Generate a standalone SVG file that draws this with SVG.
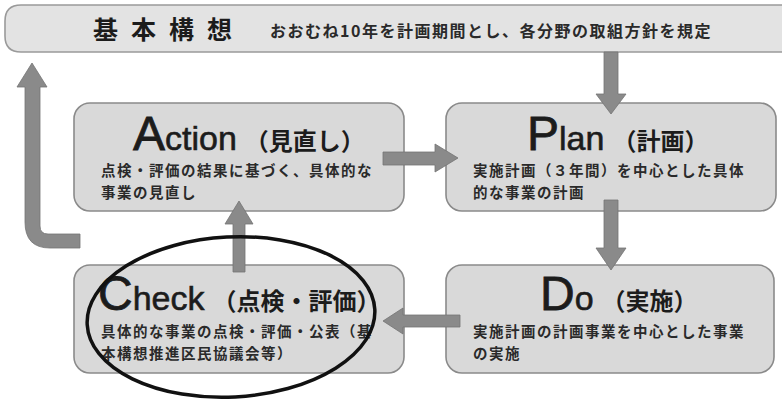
<svg xmlns="http://www.w3.org/2000/svg" width="782" height="400" viewBox="0 0 782 400">
<style>
  .box { fill: #d9d9d9; stroke: #8a8a8a; stroke-width: 1.6; }
  .banner { fill: #e3e3e3; stroke: #9a9a9a; stroke-width: 1.6; }
  .arrow { fill: #8a8a8a; stroke: #747474; stroke-width: 0.8; }
  .ttl { font-family: "Liberation Sans", "Noto Sans CJK JP", sans-serif; fill: #1c1c1c; }
  .big { font-size: 48px; stroke: #1c1c1c; stroke-width: 0.8px; }
  .mid { font-size: 34px; stroke: #1c1c1c; stroke-width: 0.6px; }
  .jp { font-family: "Noto Sans CJK JP", sans-serif; font-size: 24px; font-weight: 700; stroke: none; }
  .desc { font-family: "Noto Sans CJK JP", sans-serif; font-size: 14.5px; letter-spacing: 1.5px; font-weight: 700; fill: #2a2a2a; }
  .head { font-family: "Noto Sans CJK JP", sans-serif; font-size: 25px; font-weight: 700; fill: #1c1c1c; letter-spacing: 13px; }
  .sub { font-family: "Noto Sans CJK JP", sans-serif; font-size: 16px; letter-spacing: 1.5px; font-weight: 600; fill: #2a2a2a; }
</style>

<g id="banner">
  <path class="banner" d="M 21,5 L 790,5 L 790,52 L 21,52 Q 5,52 5,36 L 5,21 Q 5,5 21,5 Z"/>
  <text class="head" x="93" y="39">基本構想</text>
  <text class="sub" x="270" y="37">おおむね10年を計画期間とし、各分野の取組方針を規定</text>
</g>

<g id="action">
  <rect class="box" x="74" y="103" width="330" height="108" rx="16"/>
  <text class="ttl" x="133" y="150"><tspan class="big">A</tspan><tspan class="mid">ction</tspan><tspan class="jp" dx="8">（見直し）</tspan></text>
  <text class="desc" x="101" y="176">点検・評価の結果に基づく、具体的な</text>
  <text class="desc" x="101" y="197.5">事業の見直し</text>
</g>

<g id="plan">
  <rect class="box" x="446" y="103" width="330" height="108" rx="16"/>
  <text class="ttl" x="527" y="150"><tspan class="big">P</tspan><tspan class="mid">lan</tspan><tspan class="jp" dx="8">（計画）</tspan></text>
  <text class="desc" x="473" y="176">実施計画（３年間）を中心とした具体</text>
  <text class="desc" x="473" y="197.5">的な事業の計画</text>
</g>

<g id="check">
  <rect class="box" x="74" y="265" width="330" height="108" rx="16"/>
  <text class="ttl" x="98" y="310"><tspan class="big">C</tspan><tspan class="mid">heck</tspan><tspan class="jp" dx="8">（点検・評価）</tspan></text>
  <text class="desc" x="101" y="337">具体的な事業の点検・評価・公表（基</text>
  <text class="desc" x="101" y="358.5">本構想推進区民協議会等）</text>
</g>

<g id="do">
  <rect class="box" x="446" y="265" width="328" height="108" rx="16"/>
  <text class="ttl" x="540" y="310"><tspan class="big">D</tspan><tspan class="mid">o</tspan><tspan class="jp" dx="8">（実施）</tspan></text>
  <text class="desc" x="473" y="337">実施計画の計画事業を中心とした事業</text>
  <text class="desc" x="473" y="358.5">の実施</text>
</g>

<g id="connectors">
  <polygon class="arrow" points="604,52 618,52 618,94 626,94 611,114 596,94 604,94"/>
  <polygon class="arrow" points="383,152 435,152 435,144 458,158 435,172 435,165 383,165"/>
  <polygon class="arrow" points="604,200 618,200 618,248 626,248 611,270 596,248 604,248"/>
  <polygon class="arrow" points="460,315 403,315 403,308 383,321 403,334 403,327 460,327"/>
  <polygon class="arrow" points="233,272 233,224 225,224 239,201 253,224 245,224 245,272"/>
  <path class="arrow" d="M 32,63 L 47,87 L 40,87 L 40,226 Q 40,234 48,234 L 80,234 L 80,248 L 50,248 Q 25,248 25,222 L 25,87 L 17,87 Z"/>
</g>

<g id="highlight">
  <ellipse cx="231" cy="317" rx="144" ry="80" transform="rotate(-3 231 317)" fill="none" stroke="#111" stroke-width="3.5"/>
</g>
</svg>
